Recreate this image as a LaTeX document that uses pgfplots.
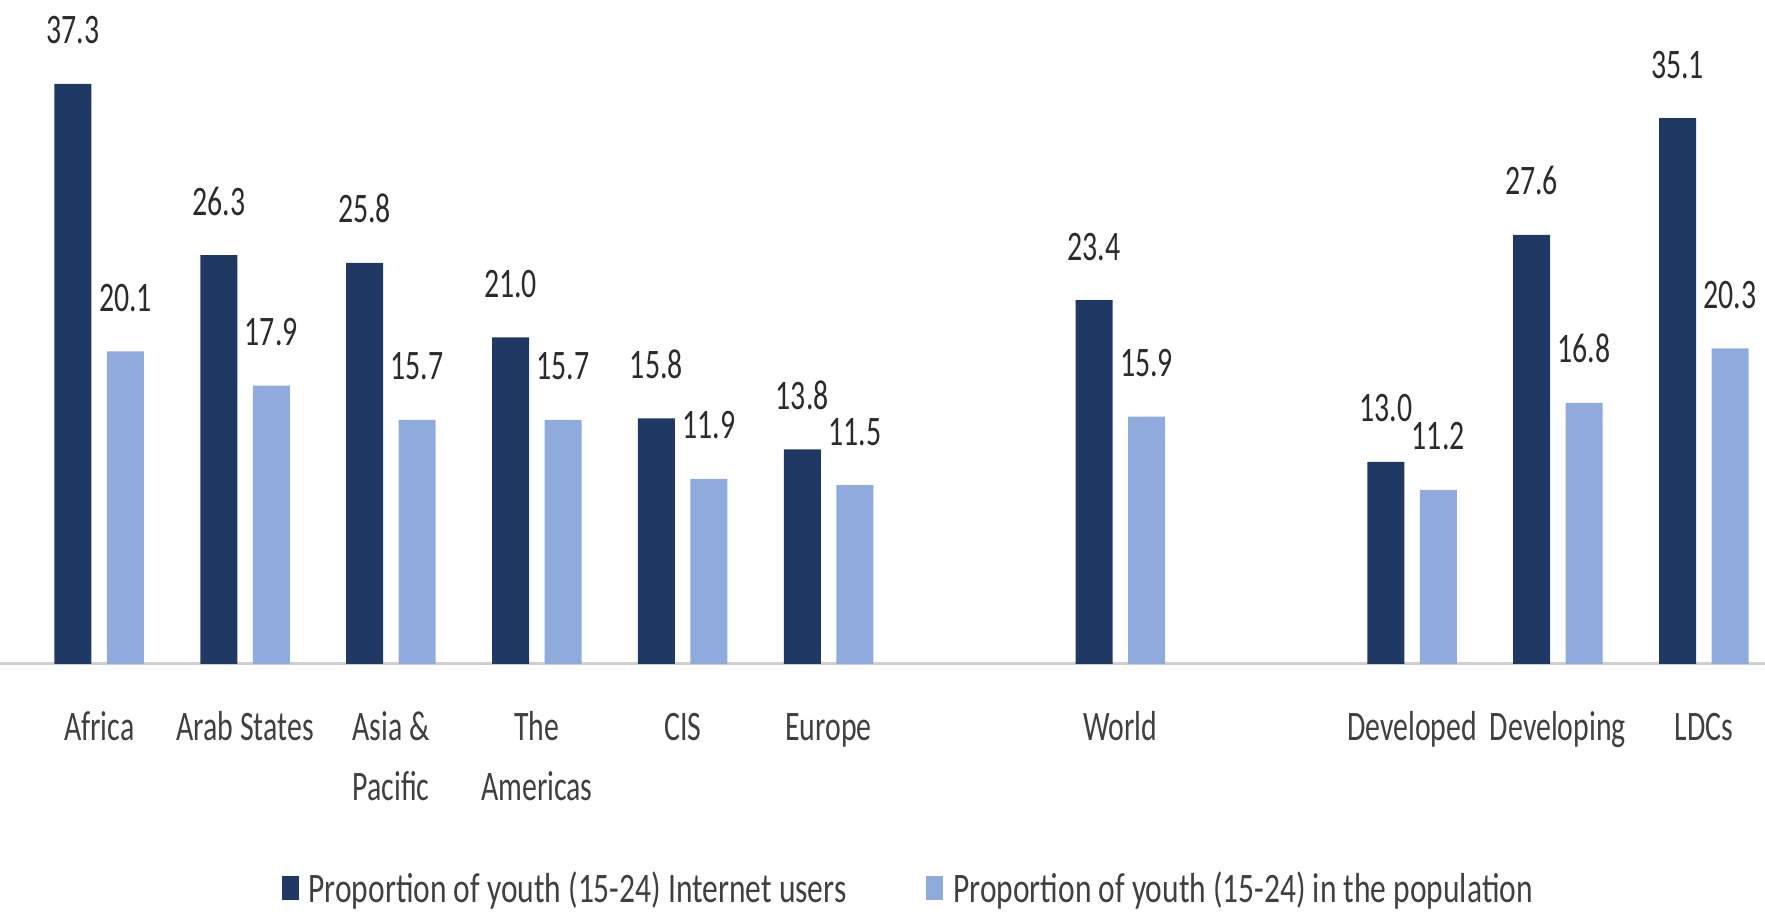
\documentclass[border=0pt]{standalone}
\usepackage{pgfplots}
\pgfplotsset{compat=1.18}
\usepackage{fontspec}
\setmainfont{Carlito}[FakeStretch=0.71]
\newfontfamily\legfont{Carlito}[FakeStretch=0.75]
\definecolor{darkb}{HTML}{203864}
\definecolor{lightb}{HTML}{8FAADC}
\definecolor{txt}{HTML}{404040}
\definecolor{vtxt}{HTML}{2B2B2B}
\definecolor{axl}{HTML}{CFCFCF}
\newcommand\ts{\rule{0pt}{15pt}}
\begin{document}
\begin{tikzpicture}
\begin{axis}[
  name=ax,
  scale only axis,
  width=882.5pt, height=332pt,
  xmin=-0.68, xmax=11.42,
  ymin=0, ymax=42.7,
  clip=false,
  ybar=7.75pt, bar width=18.5pt,
  separate axis lines,
  axis x line=bottom,
  axis y line=none,
  x axis line style={-, draw=axl, line width=1.5pt},
  ytick=\empty,
  xtick={0,1,2,3,4,5,7,9,10,11},
  xticklabels={\ts Africa, \ts Arab States, \ts Asia \&\\Pacific, \ts The\\Americas, \ts CIS, \ts Europe, \ts World, \ts Developed, \ts Developing, \ts LDCs},
  major tick length=0pt,
  xticklabel style={font={\fontsize{21}{30}\selectfont}, text=txt, align=center, anchor=north, inner sep=0pt, yshift=-23pt},
  nodes near coords,
  every node near coord/.append style={font={\fontsize{21}{25}\selectfont}, text=vtxt, anchor=base, yshift=20pt, inner sep=0pt},
  /pgf/number format/.cd, fixed, fixed zerofill, precision=1, assume math mode=true,
  /pgfplots/.cd,
  legend columns=2,
  legend style={draw=none, fill=none, at={(0.514,-0.338)}, anchor=center,
    font={\legfont\fontsize{21}{25}\selectfont}, text=txt, inner sep=0pt,
    nodes={inner sep=0pt},
    /tikz/every odd column/.append style={column sep=5pt},
    /tikz/every even column/.append style={column sep=40pt}},
  legend image code/.code={\fill[#1] (0pt,-6pt) rectangle (8.5pt,6pt);},
]
\addplot[fill=darkb, draw=none] coordinates {
  (0,37.3) (1,26.3) (2,25.8) (3,21.0) (4,15.8) (5,13.8) (7,23.4) (9,13.0) (10,27.6) (11,35.1)};
\addplot[fill=lightb, draw=none] coordinates {
  (0,20.1) (1,17.9) (2,15.7) (3,15.7) (4,11.9) (5,11.5) (7,15.9) (9,11.2) (10,16.8) (11,20.3)};
\legend{Proportion of youth (15-24) Internet users, Proportion of youth (15-24) in the population}
\coordinate (TL) at (rel axis cs:0,1);
\coordinate (BR) at (rel axis cs:1,0);
\end{axis}
\pgfresetboundingbox
\path[use as bounding box] (TL) rectangle ([yshift=-125pt]BR);
\end{tikzpicture}
\end{document}
